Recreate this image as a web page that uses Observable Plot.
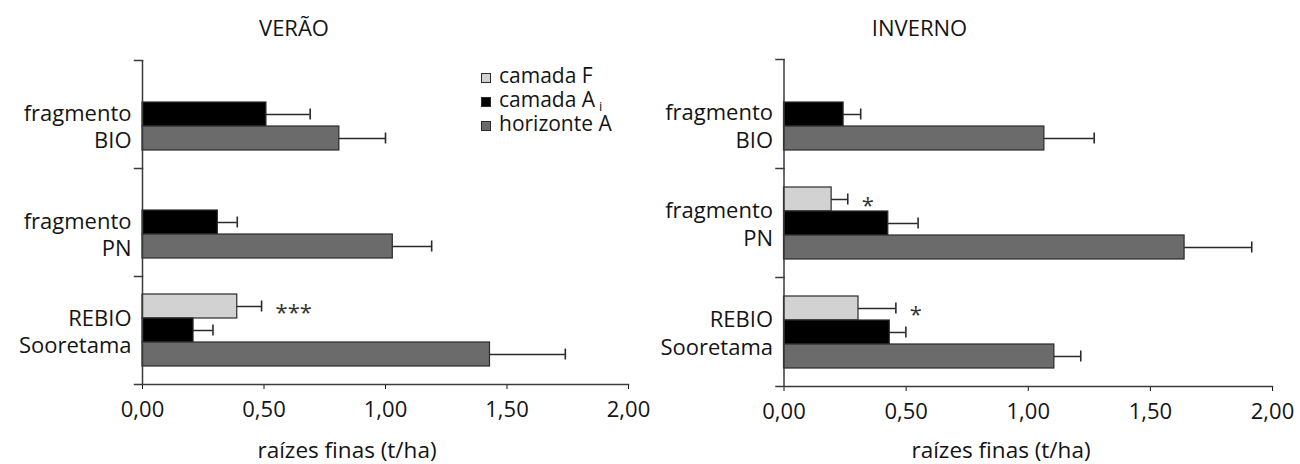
<!DOCTYPE html>
<html>
<head>
<meta charset="utf-8">
<script src="https://cdn.jsdelivr.net/npm/d3@7"></script>
<script src="https://cdn.jsdelivr.net/npm/@observablehq/plot@0.6"></script>
<style>
  html, body { margin: 0; padding: 0; background: #fff; }
  body { font-family: "Open Sans", sans-serif; color: #141414; }
  #wrap { position: relative; width: 1300px; height: 464px; overflow: hidden; }
  .panel { position: absolute; top: 0; width: 650px; height: 464px; }
  .txt { position: absolute; line-height: 1; white-space: nowrap; }
  .ctr { transform: translateX(-50%); }
  .sw { position: absolute; width: 10px; height: 10px; box-sizing: border-box; border: 1.5px solid #2a2a2a; }
  sub { font-size: 13px; line-height: 0; vertical-align: -4px; margin-left: 4px; }
</style>
</head>
<body>
<div id="wrap"></div>
<script>
// ---- data ----
const sites = ["fragmento\nBIO", "fragmento\nPN", "REBIO\nSooretama"];
const layers = ["camada F", "camada Ai", "horizonte A"];
const layerColors = ["#d2d2d2", "#000000", "#6b6b6b"];
const xTicks = [0, 0.5, 1, 1.5, 2];

// VERÃO (means and error amounts), in site order
const veraoF = [null, null, 0.39];
const veraoFerr = [null, null, 0.10];
const veraoA = [0.51, 0.31, 0.21];
const veraoAerr = [0.18, 0.08, 0.08];
const veraoH = [0.81, 1.03, 1.43];
const veraoHerr = [0.19, 0.16, 0.31];
const veraoSig = ["", "", "***"];

// INVERNO
const invernoF = [null, 0.195, 0.305];
const invernoFerr = [null, 0.066, 0.153];
const invernoA = [0.244, 0.427, 0.433];
const invernoAerr = [0.07, 0.122, 0.066];
const invernoH = [1.066, 1.64, 1.107];
const invernoHerr = [0.204, 0.275, 0.108];
const invernoSig = ["", "*", "*"];

function buildRows(vals, errs, sig) {
  const rows = [];
  sites.forEach((s, i) => {
    layers.forEach((l, j) => {
      const v = vals[j][i];
      if (v != null) rows.push({site: s, layer: l, value: v, hi: v + errs[j][i], sig: j === 0 ? sig[i] : ""});
    });
  });
  return rows;
}

const fmt = d => d.toFixed(2).replace(".", ",");
const axisColor = "#3a3a3a";

function panel(rows, fVals, mL, mR, mB) {
  const W = 650, H = 464;
  const plotW = W - mL - mR;
  const withF = sites.filter((s, i) => fVals[i] != null).map(s => ({site: s}));
  const noF = sites.filter((s, i) => fVals[i] == null).map(s => ({site: s}));
  return Plot.plot({
    width: W, height: H,
    marginLeft: mL, marginRight: mR, marginTop: 59, marginBottom: mB,
    style: {fontFamily: "'Open Sans', sans-serif", fontSize: "22px", color: "#141414", background: "transparent", overflow: "visible"},
    x: {domain: [0, 2], ticks: xTicks, tickFormat: fmt, tickSize: 5, tickPadding: 12, label: null},
    y: {domain: layers, paddingInner: 0, paddingOuter: 0.75, axis: null},
    fy: {domain: sites, padding: 0, axis: null},
    color: {domain: layers, range: layerColors},
    marks: [
      Plot.barX(rows, {x: "value", y: "layer", fy: "site", fill: "layer", stroke: "#2a2a2a", strokeWidth: 1.2}),
      Plot.ruleY(rows, {x1: "value", x2: "hi", y: "layer", fy: "site", stroke: "#2a2a2a", strokeWidth: 1.5}),
      Plot.tickX(rows, {x: "hi", y: "layer", fy: "site", stroke: "#2a2a2a", strokeWidth: 1.6, inset: 6.5}),
      Plot.text(rows.filter(d => d.sig), {x: "hi", y: "layer", fy: "site", text: "sig", textAnchor: "start", dx: 14, dy: 6, fill: "#333", fontSize: 22}),
      Plot.ruleX([0], {stroke: axisColor, strokeWidth: 1.5}),
      Plot.frame({anchor: "top", insetLeft: -8, insetRight: plotW, stroke: axisColor, strokeWidth: 1.5}),
      Plot.frame({anchor: "bottom", facetAnchor: "bottom", insetLeft: -8, stroke: axisColor, strokeWidth: 1.5}),
      Plot.text(withF, {fy: "site", text: "site", frameAnchor: "left", textAnchor: "end", dx: -11, lineHeight: 1.25}),
      Plot.text(noF, {fy: "site", text: "site", frameAnchor: "left", textAnchor: "end", dx: -11, dy: 11, lineHeight: 1.25})
    ]
  });
}

const wrap = document.getElementById("wrap");

const left = document.createElement("div");
left.className = "panel"; left.style.left = "0px";
left.appendChild(panel(buildRows([veraoF, veraoA, veraoH], [veraoFerr, veraoAerr, veraoHerr], veraoSig), veraoF, 142, 22, 80));
wrap.appendChild(left);

const right = document.createElement("div");
right.className = "panel"; right.style.left = "650px";
right.appendChild(panel(buildRows([invernoF, invernoA, invernoH], [invernoFerr, invernoAerr, invernoHerr], invernoSig), invernoF, 133.5, 28, 78));
wrap.appendChild(right);

// titles & axis titles
function addText(str, x, top, size, centered) {
  const d = document.createElement("div");
  d.className = "txt" + (centered ? " ctr" : "");
  d.style.left = x + "px"; d.style.top = top + "px";
  d.style.fontSize = size + "px";
  d.textContent = str;
  wrap.appendChild(d);
  return d;
}
addText("VERÃO", 294, 15.5, 22, true);
addText("INVERNO", 919.5, 15.5, 22, true);
addText("raízes finas (t/ha)", 347, 439, 22.5, true);
addText("raízes finas (t/ha)", 1001, 439, 22.5, true);

// legend
const legendTops = [72.5, 97, 121];
layers.forEach((l, j) => {
  const sw = document.createElement("div");
  sw.className = "sw";
  sw.style.left = "481px"; sw.style.top = legendTops[j] + "px";
  sw.style.background = layerColors[j];
  wrap.appendChild(sw);
  const t = addText("", 499, legendTops[j] - 8, 21, false);
  if (l.endsWith("Ai")) {
    t.textContent = l.slice(0, -1);
    const s = document.createElement("sub"); s.textContent = "i"; t.appendChild(s);
  } else {
    t.textContent = l;
  }
});
</script>
</body>
</html>
